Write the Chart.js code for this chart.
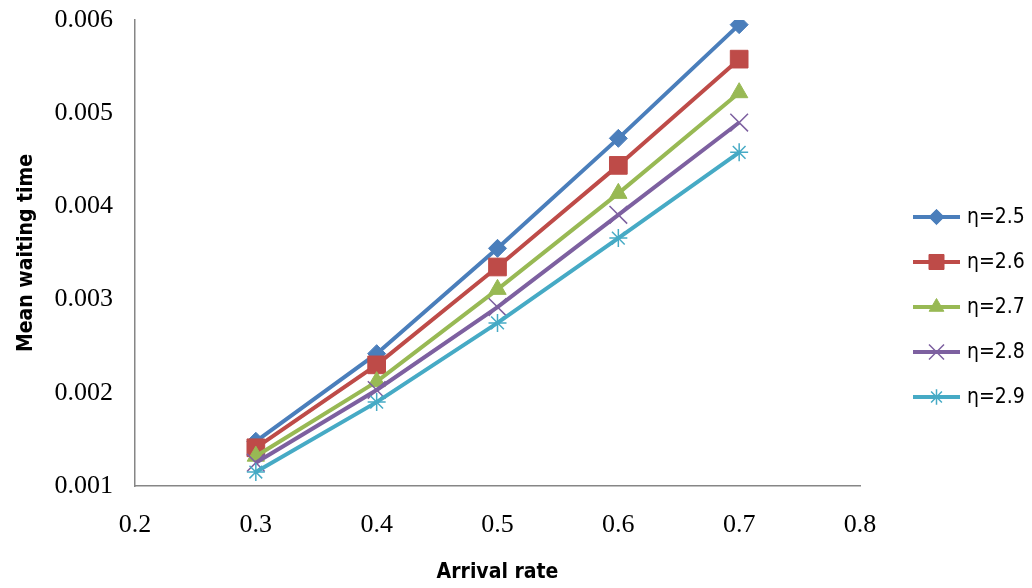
<!DOCTYPE html>
<html>
<head>
<meta charset="utf-8">
<script src="https://cdn.jsdelivr.net/npm/chart.js@4/dist/chart.umd.min.js"></script>
<style>
  html, body { margin: 0; padding: 0; background: #fff; }
  #wrap { width: 1032px; height: 588px; }
</style>
</head>
<body>
<div id="wrap"><canvas id="waitChart" width="1032" height="588"></canvas></div>
<script>
// values
const arrivalRates = [0.3, 0.4, 0.5, 0.6, 0.7];
const eta25 = [0.00148, 0.00242, 0.00355, 0.00473, 0.00595];
const eta26 = [0.00141, 0.00230, 0.00335, 0.00444, 0.00558];
const eta27 = [0.00132, 0.00212, 0.00311, 0.00414, 0.00522];
const eta28 = [0.00125, 0.00203, 0.00292, 0.00391, 0.00490];
const eta29 = [0.00115, 0.00190, 0.00275, 0.00366, 0.00458];
const seriesLabels = ["η=2.5", "η=2.6", "η=2.7", "η=2.8", "η=2.9"];
const xTicks = [0.2, 0.3, 0.4, 0.5, 0.6, 0.7, 0.8];
const yTicks = [0.001, 0.002, 0.003, 0.004, 0.005, 0.006];

const colors = ['#4A7EBB', '#BE4B48', '#98B954', '#7D60A0', '#46AAC5'];
const markers = [
  { style: 'rectRot', radius: 9, border: 1 },
  { style: 'rect', radius: 12.5, border: 1 },
  { style: 'triangle', radius: 10, border: 1 },
  { style: 'crossRot', radius: 12.5, border: 1.5 },
  { style: 'star', radius: 9, border: 1.5 }
];

const allSeries = [eta25, eta26, eta27, eta28, eta29];

const datasets = allSeries.map((vals, i) => ({
  label: seriesLabels[i],
  data: vals.map((v, k) => ({ x: arrivalRates[k], y: v })),
  borderColor: colors[i],
  backgroundColor: colors[i],
  borderWidth: 4,
  pointStyle: markers[i].style,
  pointRadius: markers[i].radius,
  pointBorderWidth: markers[i].border,
  pointBackgroundColor: colors[i],
  pointBorderColor: colors[i],
  showLine: true,
  tension: 0,
  order: 4 - i
}));

const tickFont = { family: "'Liberation Serif', 'DejaVu Serif', serif", size: 26 };
const titleFont = { family: "'Liberation Sans Narrow', 'DejaVu Sans Condensed', 'Liberation Sans', sans-serif", size: 21, weight: 'bold' };

// legend on the right: short line with the marker in the middle
const sideLegend = {
  id: 'sideLegend',
  afterDraw(chart) {
    const ctx = chart.ctx;
    const x0 = 913, x1 = 960, top = 217, gap = 45;
    ctx.save();
    seriesLabels.forEach((lab, i) => {
      const y = top + i * gap;
      ctx.strokeStyle = colors[i];
      ctx.lineWidth = 4;
      ctx.beginPath();
      ctx.moveTo(x0, y);
      ctx.lineTo(x1, y);
      ctx.stroke();
      ctx.fillStyle = colors[i];
      ctx.lineWidth = markers[i].border;
      Chart.helpers.drawPoint(ctx, {
        pointStyle: markers[i].style,
        radius: markers[i].radius * 0.85,
        rotation: 0,
        borderWidth: markers[i].border
      }, (x0 + x1) / 2, y);
      ctx.fillStyle = '#000';
      ctx.font = "21px 'Liberation Sans Narrow', 'DejaVu Sans Condensed', 'Liberation Sans', sans-serif";
      ctx.textAlign = 'left';
      ctx.textBaseline = 'middle';
      ctx.fillText(lab, 967, y + 1);
    });
    ctx.restore();
  }
};

const ctx = document.getElementById('waitChart').getContext('2d');
const waitChart = new Chart(ctx, {
  type: 'scatter',
  data: { datasets: datasets },
  options: {
    responsive: false,
    animation: false,
    layout: { padding: { left: 0, right: 172, top: 20, bottom: 0 } },
    plugins: {
      legend: { display: false },
      tooltip: { enabled: false }
    },
    scales: {
      x: {
        type: 'linear',
        min: xTicks[0],
        max: xTicks[xTicks.length - 1],
        afterBuildTicks: (scale) => { scale.ticks = xTicks.map(v => ({ value: v })); },
        afterFit: (scale) => {
          scale.height = 102;
          scale.paddingLeft = 0;
          scale.paddingRight = 0;
        },
        grid: { display: false, drawTicks: false },
        border: { display: true, color: '#868686', width: 1.5 },
        ticks: {
          color: '#000',
          font: tickFont,
          padding: 24,
          maxRotation: 0,
          callback: (v) => Number(v).toFixed(1)
        },
        title: {
          display: true,
          text: 'Arrival rate',
          color: '#000',
          font: titleFont,
          padding: { top: 0, bottom: 3 }
        }
      },
      y: {
        type: 'linear',
        min: yTicks[0],
        max: yTicks[yTicks.length - 1],
        afterBuildTicks: (scale) => { scale.ticks = yTicks.map(v => ({ value: v })); },
        afterFit: (scale) => {
          scale.width = 135;
          scale.paddingTop = 0;
          scale.paddingBottom = 0;
        },
        grid: { display: false, drawTicks: false },
        border: { display: true, color: '#868686', width: 1.5 },
        ticks: {
          color: '#000',
          font: tickFont,
          padding: 22,
          callback: (v) => Number(v).toFixed(3)
        },
        title: {
          display: true,
          text: 'Mean waiting time',
          color: '#000',
          font: titleFont,
          padding: { top: 14, bottom: 0 }
        }
      }
    }
  },
  plugins: [sideLegend]
});
</script>
</body>
</html>
